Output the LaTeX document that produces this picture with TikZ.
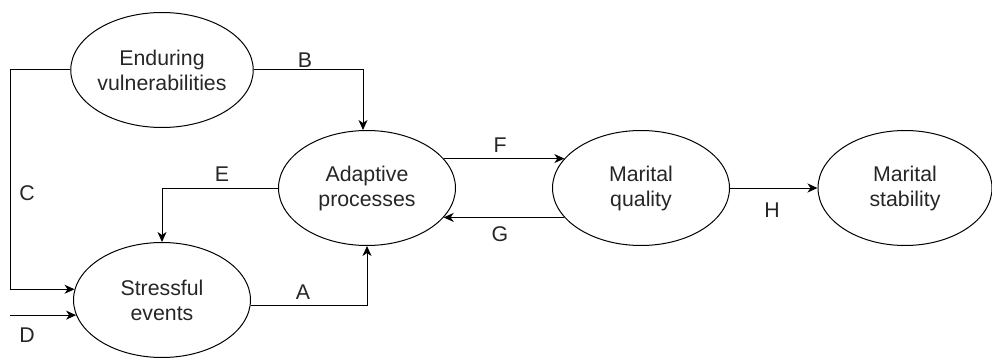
\documentclass[tikz,border=0pt]{standalone}
\usepackage{fontspec}
\setmainfont{Liberation Sans}
\usetikzlibrary{shapes.geometric,arrows.meta}
\begin{document}
\begin{tikzpicture}[x=1pt,y=-1pt,
  every node/.style={font=\fontsize{21.3}{25}\selectfont, text=black!85},
  oval/.style={ellipse, draw=black, line width=1pt, minimum width=177pt, minimum height=115pt, inner sep=0pt, align=center},
  arr/.style={draw=black, line width=1pt, -{Stealth[length=10pt,width=9pt,inset=3pt]}},
  lbl/.style={inner sep=0pt}
]
\useasboundingbox (0,0) rectangle (992,358);
\node[oval] (endur) at (162,70) {Enduring\\vulnerabilities};
\node[oval] (adapt) at (367,188) {Adaptive\\processes};
\node[oval] (mq) at (641,188) {Marital\\quality};
\node[oval, minimum width=174pt] (ms) at (905,188) {Marital\\stability};
\node[oval] (stress) at (162,300) {Stressful\\events};
\coordinate (cl) at (10,0);
% B
\draw[arr] (endur.east) -| ([xshift=-4pt]adapt.north);
% C
\draw[arr] (endur.west) -| (cl |- stress.173) -- (stress.173);
% D
\draw[arr] (stress.190 -| cl) -- (stress.190);
% E
\draw[arr] (adapt.west) -| (stress.north);
% A
\draw[arr] ([yshift=-5pt]stress.east) -| (adapt.south);
% F
\draw[arr] (adapt.21) -- (adapt.21 -| mq.159);
% G
\draw[arr] (mq.201) -- (mq.201 -| adapt.339);
% H
\draw[arr] (mq.east) -- (ms.west);
\node[lbl] (lB) at (305,60) {B};
\node[lbl] (lC) at (27,193) {C};
\node[lbl] (lE) at (222,174) {E};
\node[lbl] (lA) at (303,292) {A};
\node[lbl] (lD) at (27,335) {D};
\node[lbl] (lF) at (500,145) {F};
\node[lbl] (lG) at (500,234) {G};
\node[lbl] (lH) at (772,210) {H};
\end{tikzpicture}
\end{document}
